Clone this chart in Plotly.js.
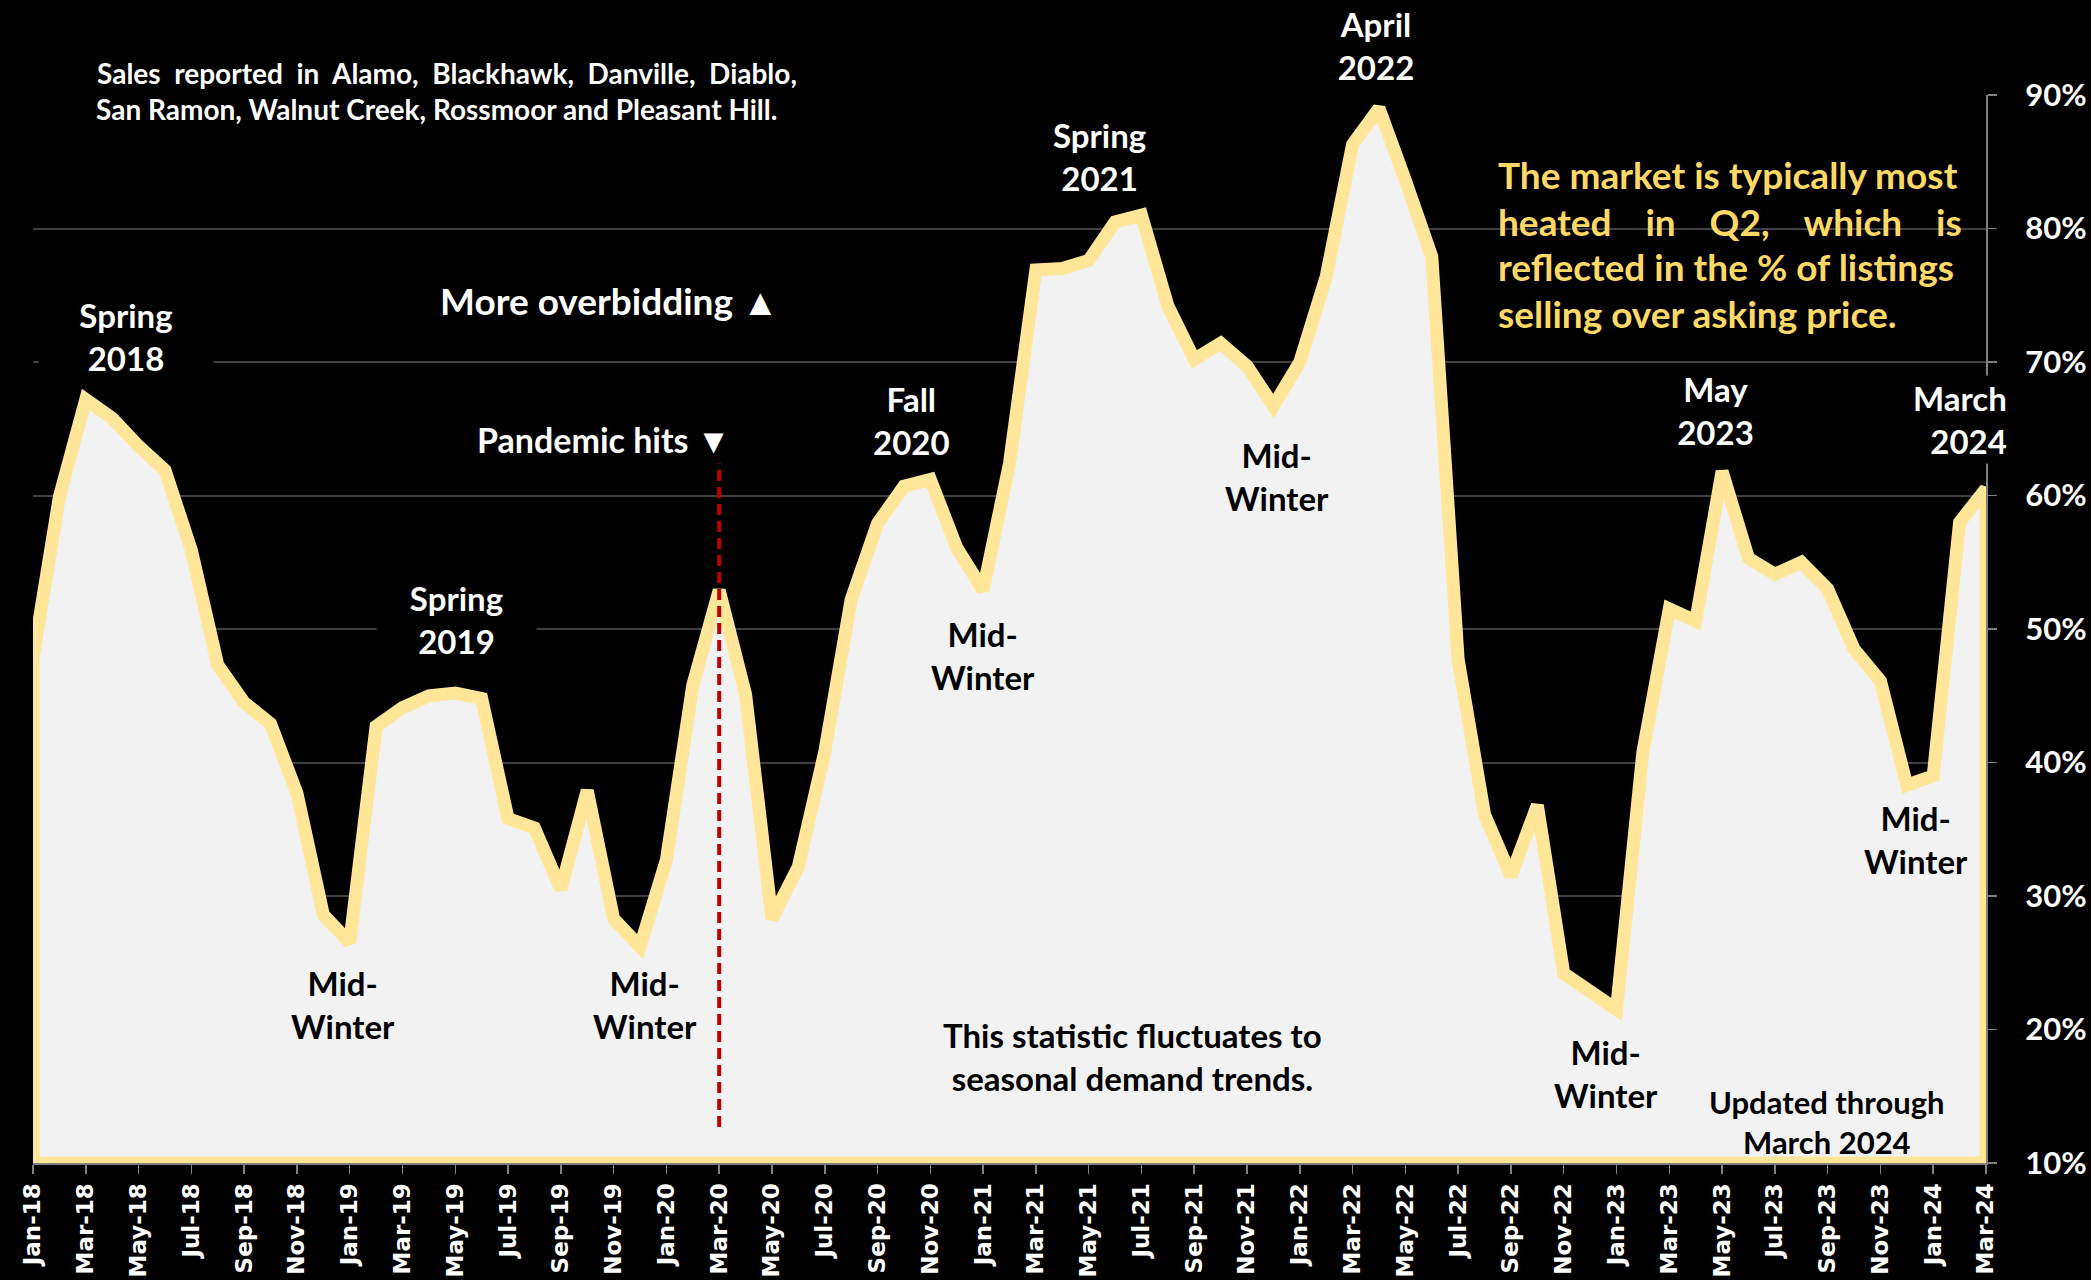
<!DOCTYPE html>
<html>
<head>
<meta charset="utf-8">
<script src="https://cdn.plot.ly/plotly-3.0.1.min.js"></script>
<style>
  html, body { margin: 0; padding: 0; background: #000; }
  #chart { width: 2091px; height: 1280px; }
</style>
</head>
<body>
<div id="chart"></div>
<script>
// Monthly share of listings selling over asking price (%), Jan-18 .. Mar-24
const months = [
  'Jan-18','Feb-18','Mar-18','Apr-18','May-18','Jun-18','Jul-18','Aug-18','Sep-18','Oct-18','Nov-18','Dec-18',
  'Jan-19','Feb-19','Mar-19','Apr-19','May-19','Jun-19','Jul-19','Aug-19','Sep-19','Oct-19','Nov-19','Dec-19',
  'Jan-20','Feb-20','Mar-20','Apr-20','May-20','Jun-20','Jul-20','Aug-20','Sep-20','Oct-20','Nov-20','Dec-20',
  'Jan-21','Feb-21','Mar-21','Apr-21','May-21','Jun-21','Jul-21','Aug-21','Sep-21','Oct-21','Nov-21','Dec-21',
  'Jan-22','Feb-22','Mar-22','Apr-22','May-22','Jun-22','Jul-22','Aug-22','Sep-22','Oct-22','Nov-22','Dec-22',
  'Jan-23','Feb-23','Mar-23','Apr-23','May-23','Jun-23','Jul-23','Aug-23','Sep-23','Oct-23','Nov-23','Dec-23',
  'Jan-24','Feb-24','Mar-24'
];

const overAskPct = [
  47.8, 59.9, 67.2, 65.8, 63.7, 61.9, 55.9, 47.3, 44.5, 42.9, 37.7, 28.6,
  26.5, 42.7, 44.1, 45.0, 45.2, 44.8, 35.8, 35.1, 30.5, 37.9, 28.3, 26.2,
  32.7, 45.8, 52.9, 45.1, 28.3, 32.2, 40.8, 52.2, 57.9, 60.7, 61.2, 56.1,
  52.9, 62.4, 76.9, 77.0, 77.6, 80.5, 81.0, 74.2, 70.2, 71.4, 69.7, 66.7,
  70.0, 76.4, 86.3, 89.0, 83.6, 77.9, 47.7, 36.1, 31.5, 36.8, 24.2, 22.9,
  21.5, 40.8, 51.5, 50.6, 61.8, 55.3, 54.1, 55.0, 53.0, 48.5, 46.1, 38.3,
  39.0, 58.0, 60.5
];

// Axis scale and ticks
const yTickVals = [10, 20, 30, 40, 50, 60, 70, 80, 90];
const yMin = 10, yMax = 90;
const tickMonths = months.filter((m, i) => i % 2 === 0);

// Pandemic marker: month and vertical extent (%)
const pandemicMonth = 'Mar-20';
const pandemicSpan = [12.7, 62.4];

const last = months.length - 1;

// Area outlined on all sides: the series, then down to the axis floor and back
const area = {
  type: 'scatter',
  mode: 'lines',
  x: months.concat([months[last], months[0], months[0]]),
  y: overAskPct.concat([yMin, yMin, overAskPct[0]]),
  fill: 'toself',
  fillcolor: '#f2f2f2',
  line: { color: '#ffe699', width: 13 },
  hoverinfo: 'skip',
  showlegend: false
};

const pandemicLine = {
  type: 'scatter',
  mode: 'lines',
  x: [pandemicMonth, pandemicMonth],
  y: pandemicSpan,
  line: { color: '#c00000', width: 4, dash: '11px,6px' },
  hoverinfo: 'skip',
  showlegend: false
};

const WHITE = '#ffffff', INK = '#000000', GOLD = '#ffd966';
const LABEL_FONT = 'Lato, "Open Sans", sans-serif';

// Text note anchored in data units (month index, percent)
function note(text, x, y, color, size, extra) {
  return Object.assign({
    text: text, x: x, y: y, xref: 'x', yref: 'y',
    showarrow: false, xanchor: 'center', yanchor: 'middle',
    align: 'center',
    font: { family: LABEL_FONT, size: size, color: color, weight: 700 },
    bgcolor: color === WHITE ? '#000000' : 'rgba(0,0,0,0)',
    borderpad: 2
  }, extra || {});
}

// Same, but anchored in paper units (for notes lying outside the plotted range)
function paperNote(text, x, y, color, size, extra) {
  return note(text, x, y, color, size, Object.assign({ xref: 'paper', yref: 'paper' }, extra || {}));
}

const NB = '\u00a0', HAIR = '\u200a';
const gap = n => ' ' + NB.repeat(n);
const wide = gap(2) + HAIR.repeat(3);
const CLEAR = 'rgba(0,0,0,0)';

const annotations = [
  paperNote('Sales' + gap(1) + 'reported' + gap(1) + 'in' + gap(1) + 'Alamo,' + gap(1) + 'Blackhawk,' + gap(1) + 'Danville,' + gap(1) + 'Diablo,',
       0.0312, 1.0206, WHITE, 28, { xanchor: 'left', align: 'left', bgcolor: CLEAR }),
  note('San Ramon, Walnut Creek, Rossmoor and Pleasant Hill.',
       2.29, 88.95, WHITE, 28, { xanchor: 'left', align: 'left', bgcolor: CLEAR }),

  note('More overbidding \u25B2', 21.85, 74.6, WHITE, 37),
  note('Pandemic hits \u25BC', 21.6, 64.2, WHITE, 34),

  note('Spring<br>2018', 3.54, 71.9, WHITE, 33, { width: 170 }),
  note('Spring<br>2019', 16.05, 50.7, WHITE, 33, { width: 155 }),
  note('Fall<br>2020', 33.29, 65.65, WHITE, 33),
  note('Spring<br>2021', 40.41, 85.36, WHITE, 33),
  paperNote('April<br>2022', 0.6877, 1.0468, WHITE, 33, { width: 150 }),
  note('May<br>2023', 63.75, 66.4, WHITE, 33, { width: 155 }),
  paperNote('March<br>2024', 1.0123, 0.6957, WHITE, 33, { xanchor: 'right', align: 'right' }),

  note('Mid-<br>Winter', 11.73, 21.9, INK, 33),
  note('Mid-<br>Winter', 23.17, 21.9, INK, 33),
  note('Mid-<br>Winter', 35.98, 48.05, INK, 33),
  note('Mid-<br>Winter', 47.12, 61.46, INK, 33),
  note('Mid-<br>Winter', 59.62, 16.74, INK, 33),
  note('Mid-<br>Winter', 71.33, 34.27, INK, 33),

  note('This statistic fluctuates to<br>seasonal demand trends.', 41.66, 18.0, INK, 33),
  note('Updated through<br>March 2024', 67.96, 13.07, INK, 31),

  note('The market is typically most', 55.38, 84.08, GOLD, 37, { xanchor: 'left', align: 'left' }),
  note('heated' + wide + 'in' + wide + 'Q2,' + wide + 'which' + wide + 'is', 55.38, 80.56, GOLD, 37, { xanchor: 'left', align: 'left' }),
  note('reflected in the % of listings', 55.38, 77.12, GOLD, 37, { xanchor: 'left', align: 'left' }),
  note('selling over asking price.', 55.38, 73.6, GOLD, 37, { xanchor: 'left', align: 'left' })
];

// Black text panels that mask the gridlines behind the two text blocks
const panels = [
  { x0: 0.0225, x1: 0.4045, y0: 0.967, y1: 1.0365 },
  { x0: 0.7363, x1: 0.9959, y0: 0.7706, y1: 0.9485 }
].map(p => Object.assign({
  type: 'rect', xref: 'paper', yref: 'paper', layer: 'below',
  fillcolor: '#000000', line: { width: 0 }
}, p));

const layout = {
  width: 2091,
  height: 1280,
  margin: { l: 33, r: 105, t: 95, b: 117 },
  paper_bgcolor: '#000000',
  plot_bgcolor: '#000000',
  showlegend: false,
  xaxis: {
    type: 'category',
    range: [0, last],
    tickmode: 'array',
    tickvals: tickMonths,
    ticktext: tickMonths,
    tickangle: -90,
    ticks: 'outside',
    ticklen: 9,
    tickwidth: 1.5,
    tickcolor: '#808080',
    showline: true,
    linecolor: '#808080',
    linewidth: 2,
    showgrid: false,
    zeroline: false,
    tickfont: { family: '"DejaVu Sans", Verdana, sans-serif', size: 23, color: WHITE, weight: 700 },
    fixedrange: true
  },
  yaxis: {
    side: 'right',
    range: [yMin, yMax],
    tickmode: 'array',
    tickvals: yTickVals,
    ticktext: yTickVals.map(v => v + '%'),
    ticks: 'outside',
    ticklen: 9,
    tickwidth: 1.5,
    tickcolor: '#808080',
    showline: true,
    linecolor: '#808080',
    linewidth: 2,
    showgrid: true,
    gridcolor: '#404040',
    gridwidth: 2,
    zeroline: false,
    ticklabelstandoff: 22,
    tickfont: { family: LABEL_FONT, size: 31, color: WHITE, weight: 700 },
    fixedrange: true
  },
  shapes: panels,
  annotations: annotations
};

Plotly.newPlot('chart', [area, pandemicLine], layout, { staticPlot: true, displayModeBar: false });
</script>
</body>
</html>
